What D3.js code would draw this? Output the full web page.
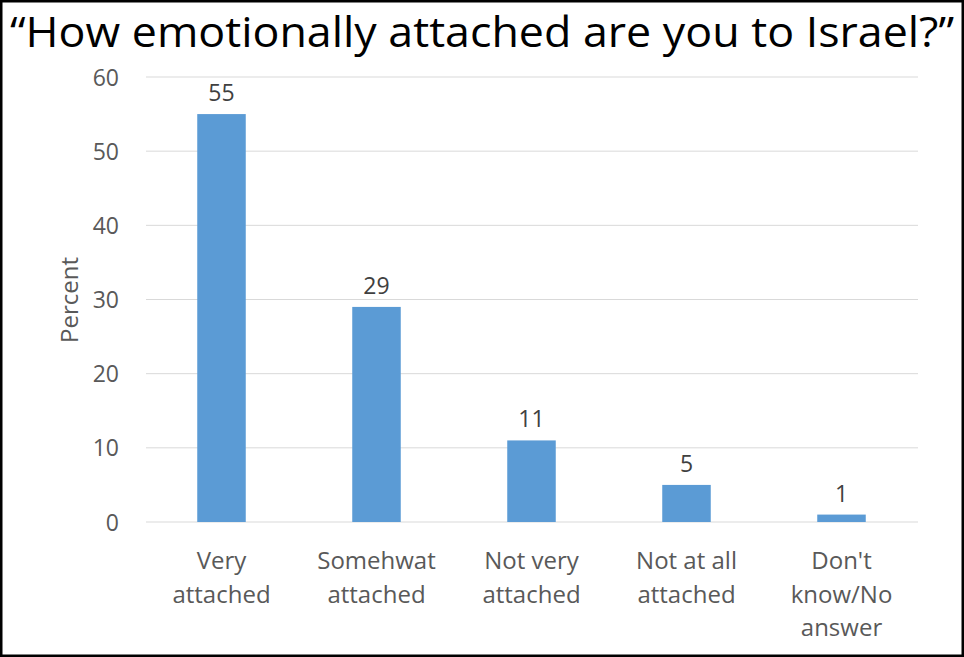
<!DOCTYPE html>
<html>
<head>
<meta charset="utf-8">
<script src="https://cdn.jsdelivr.net/npm/d3@7"></script>
<style>
  html, body { margin: 0; padding: 0; background: #fff; }
  svg { display: block; }
</style>
</head>
<body>
<svg id="chart" width="964" height="657"></svg>
<script>
const titleText = "\u201CHow emotionally attached are you to Israel?\u201D";
const categories = [
  ["Very", "attached"],
  ["Somehwat", "attached"],
  ["Not very", "attached"],
  ["Not at all", "attached"],
  ["Don't", "know/No", "answer"]
];
const values = [55, 29, 11, 5, 1];
const yTicks = [0, 10, 20, 30, 40, 50, 60];
const yLabel = "Percent";

const W = 964, H = 657;
const svg = d3.select("#chart");
const font = "'Open Sans', 'DejaVu Sans', sans-serif";

svg.append("rect").attr("x", 0).attr("y", 0).attr("width", W).attr("height", H).attr("fill", "#fff");

const plot = { left: 144, right: 919, top: 77, bottom: 522 };

const x = d3.scaleBand()
  .domain(categories.map((d, i) => i))
  .range([plot.left, plot.right])
  .paddingInner(0.687)
  .paddingOuter(0.3435);

const y = d3.scaleLinear().domain([0, 60]).range([plot.bottom, plot.top]);

// gridlines
svg.append("g")
  .selectAll("line")
  .data(yTicks)
  .join("line")
  .attr("x1", plot.left + 2)
  .attr("x2", plot.right - 1)
  .attr("y1", d => y(d))
  .attr("y2", d => y(d))
  .attr("stroke", "#d9d9d9")
  .attr("stroke-width", 1);

// y axis tick labels via d3 axis
const yAxis = d3.axisLeft(y).tickValues(yTicks).tickSize(0).tickPadding(0);
const gy = svg.append("g").attr("transform", `translate(119,0)`).call(yAxis);
gy.select(".domain").remove();
gy.selectAll("text")
  .attr("font-family", font)
  .attr("font-size", 23)
  .attr("fill", "#595959")
  .attr("dy", "0.35em");

// y label
svg.append("text")
  .attr("transform", `translate(78,300) rotate(-90)`)
  .attr("text-anchor", "middle")
  .attr("font-family", font)
  .attr("font-size", 24)
  .attr("fill", "#595959")
  .text(yLabel);

// bars
svg.append("g")
  .selectAll("rect")
  .data(values)
  .join("rect")
  .attr("x", (d, i) => x(i))
  .attr("width", x.bandwidth())
  .attr("y", d => y(d))
  .attr("height", d => y(0) - y(d))
  .attr("fill", "#5b9bd5");

// value labels
svg.append("g")
  .selectAll("text")
  .data(values)
  .join("text")
  .attr("x", (d, i) => x(i) + x.bandwidth() / 2)
  .attr("y", d => y(d) - 13)
  .attr("text-anchor", "middle")
  .attr("font-family", font)
  .attr("font-size", 23)
  .attr("fill", "#404040")
  .text(d => d);

// category labels
const cat = svg.append("g")
  .selectAll("text")
  .data(categories)
  .join("text")
  .attr("text-anchor", "middle")
  .attr("font-family", font)
  .attr("font-size", 24)
  .attr("fill", "#595959");
cat.each(function(lines, i) {
  const t = d3.select(this);
  lines.forEach((ln, j) => {
    t.append("tspan")
      .attr("x", x(i) + x.bandwidth() / 2)
      .attr("y", 569 + j * 33.5)
      .text(ln);
  });
});

// title
svg.append("text")
  .attr("x", W / 2)
  .attr("y", 47)
  .attr("text-anchor", "middle")
  .attr("font-family", font)
  .attr("font-size", 42)
  .attr("fill", "#000")
  .attr("textLength", 944)
  .attr("lengthAdjust", "spacingAndGlyphs")
  .text(titleText);

// frame
svg.append("rect")
  .attr("x", 1.25).attr("y", 1.25)
  .attr("width", W - 2.5).attr("height", H - 2.5)
  .attr("fill", "none")
  .attr("stroke", "#000")
  .attr("stroke-width", 2.5);
</script>
</body>
</html>
